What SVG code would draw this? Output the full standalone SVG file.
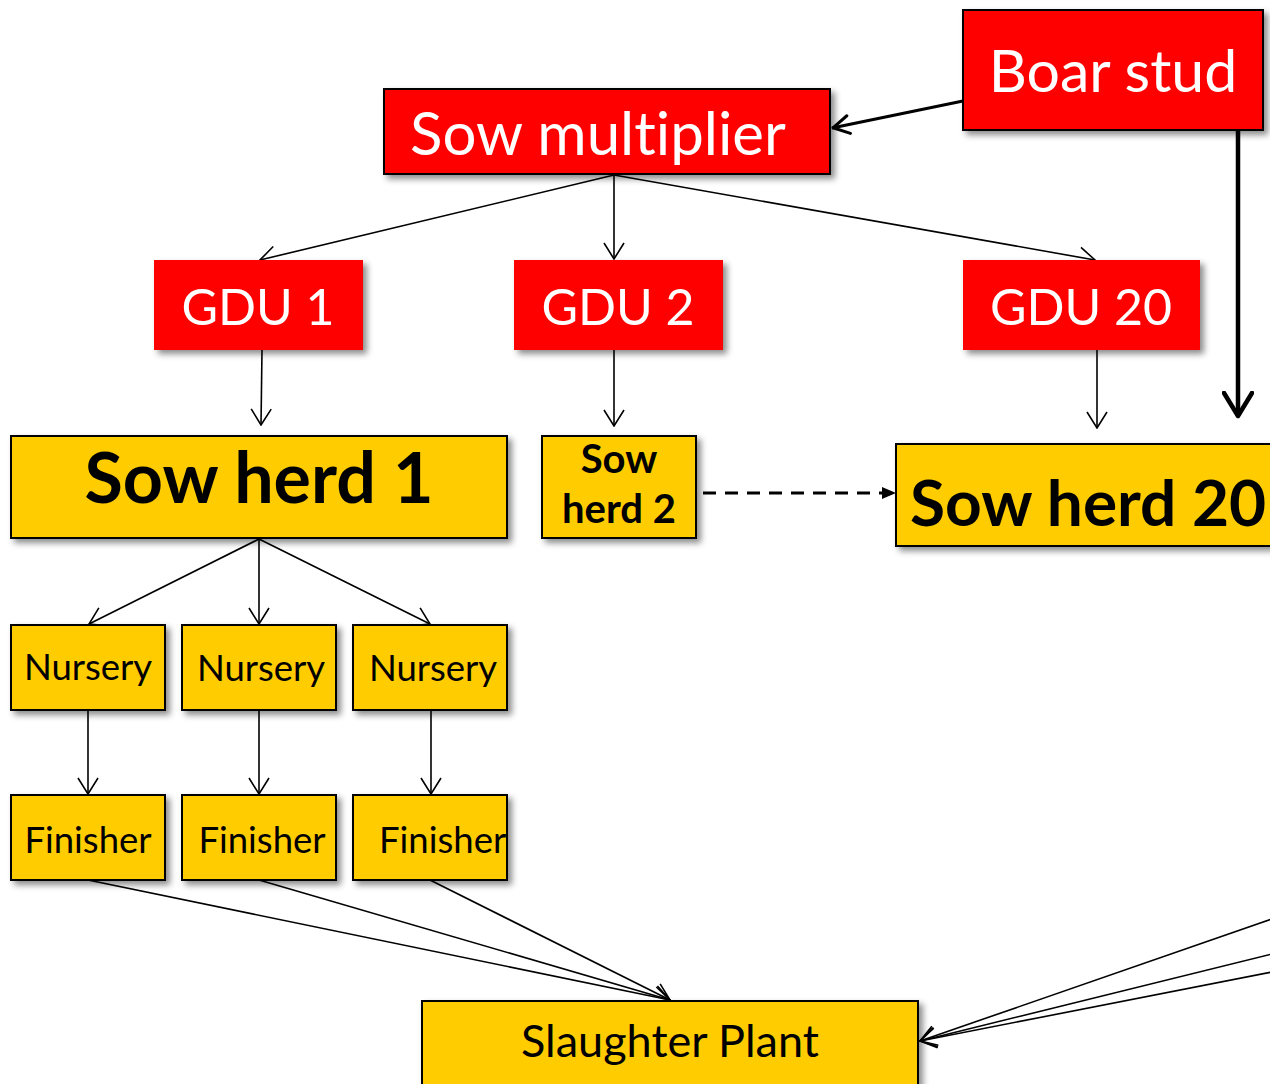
<svg xmlns="http://www.w3.org/2000/svg" width="1270" height="1084" viewBox="0 0 1270 1084">
<defs>
<filter id="sh" x="-10%" y="-20%" width="130%" height="150%">
<feDropShadow dx="4" dy="4" stdDeviation="3" flood-color="#000" flood-opacity="0.45"/>
</filter>
<marker id="open" markerUnits="userSpaceOnUse" viewBox="0 0 18 22" refX="17" refY="11" markerWidth="18" markerHeight="22" orient="auto">
<path d="M1,1 L17,11 L1,21" fill="none" stroke="#000" stroke-width="1.6"/>
</marker>
<marker id="openThick" markerUnits="userSpaceOnUse" viewBox="0 0 28 32" refX="25" refY="16" markerWidth="28" markerHeight="32" orient="auto">
<path d="M2,2 L25,16 L2,30" fill="none" stroke="#000" stroke-width="4.5" stroke-linecap="round" stroke-linejoin="round"/>
</marker>
<marker id="openMed" markerUnits="userSpaceOnUse" viewBox="0 0 20 22" refX="19" refY="11" markerWidth="20" markerHeight="22" orient="auto">
<path d="M2,2 L18,11 L2,20" fill="none" stroke="#000" stroke-width="3" stroke-linecap="round" stroke-linejoin="round"/>
</marker>
<marker id="tri" markerUnits="userSpaceOnUse" viewBox="0 0 14 14" refX="13" refY="7" markerWidth="14" markerHeight="14" orient="auto">
<path d="M0,1 L14,7 L0,13 Z" fill="#000"/>
</marker>
</defs>
<style>
.red{fill:#FF0000;}
.redb{fill:#FF0000;stroke:#000;stroke-width:2;}
.yel{fill:#FFCC00;stroke:#000;stroke-width:2;}
text{font-family:Lato,"Open Sans",sans-serif;font-variant-ligatures:none;}
.wt{fill:#fff;}
.bk{fill:#000;}
.b{font-weight:bold;}
.c{stroke:#000;stroke-width:1.6;fill:none;}
</style>

<g id="connectors">
<line class="c" x1="963" y1="101" x2="832" y2="128" style="stroke-width:3" marker-end="url(#openMed)"/>
<line class="c" x1="1238" y1="130" x2="1238" y2="416" style="stroke-width:4.5" marker-end="url(#openThick)"/>
<line class="c" x1="614" y1="175" x2="260" y2="260" marker-end="url(#open)"/>
<line class="c" x1="614" y1="175" x2="614" y2="259" marker-end="url(#open)"/>
<line class="c" x1="614" y1="175" x2="1095" y2="260" marker-end="url(#open)"/>
<line class="c" x1="262" y1="350" x2="261" y2="425" marker-end="url(#open)"/>
<line class="c" x1="614" y1="350" x2="614" y2="426" marker-end="url(#open)"/>
<line class="c" x1="1097" y1="350" x2="1097" y2="428" marker-end="url(#open)"/>
<line class="c" x1="703" y1="493" x2="895" y2="493" style="stroke-width:3.2;stroke-dasharray:13 9" marker-end="url(#tri)"/>
<line class="c" x1="259" y1="539" x2="89" y2="624" marker-end="url(#open)"/>
<line class="c" x1="259" y1="539" x2="259" y2="624" marker-end="url(#open)"/>
<line class="c" x1="259" y1="539" x2="430" y2="624" marker-end="url(#open)"/>
<line class="c" x1="88" y1="710" x2="88" y2="794" marker-end="url(#open)"/>
<line class="c" x1="259" y1="710" x2="259" y2="794" marker-end="url(#open)"/>
<line class="c" x1="431" y1="710" x2="431" y2="794" marker-end="url(#open)"/>
<line class="c" x1="88" y1="880" x2="670" y2="1000" marker-end="url(#open)"/>
<line class="c" x1="259" y1="880" x2="670" y2="1000" marker-end="url(#open)"/>
<line class="c" x1="430" y1="880" x2="670" y2="1000" marker-end="url(#open)"/>
<line class="c" x1="1272" y1="919" x2="920" y2="1041" marker-end="url(#open)"/>
<line class="c" x1="1272" y1="954" x2="920" y2="1041" marker-end="url(#open)"/>
<line class="c" x1="1272" y1="972" x2="920" y2="1041" marker-end="url(#open)"/>
</g>

<g id="boar-stud">
<rect class="redb" x="963" y="10" width="300" height="120" filter="url(#sh)"/>
<text class="wt" x="1113" y="92" font-size="59" text-anchor="middle">Boar stud</text>
</g>
<g id="sow-multiplier">
<rect class="redb" x="384" y="89" width="446" height="85" filter="url(#sh)"/>
<text class="wt" x="598" y="155" font-size="60" text-anchor="middle">Sow multiplier</text>
</g>
<g id="gdu-1">
<rect class="red" x="154" y="260" width="209" height="90" filter="url(#sh)"/>
<text class="wt" x="258" y="325" font-size="50" text-anchor="middle">GDU 1</text>
</g>
<g id="gdu-2">
<rect class="red" x="514" y="260" width="209" height="90" filter="url(#sh)"/>
<text class="wt" x="618" y="325" font-size="50" text-anchor="middle">GDU 2</text>
</g>
<g id="gdu-20">
<rect class="red" x="963" y="260" width="237" height="90" filter="url(#sh)"/>
<text class="wt" x="1081" y="325" font-size="50" text-anchor="middle">GDU 20</text>
</g>
<g id="sow-herd-1">
<rect class="yel" x="11" y="436" width="496" height="102" filter="url(#sh)"/>
<text class="bk b" x="259" y="503" font-size="70" text-anchor="middle">Sow herd 1</text>
</g>
<g id="sow-herd-2">
<rect class="yel" x="542" y="436" width="154" height="102" filter="url(#sh)"/>
<text class="bk b" x="619" y="473" font-size="40" text-anchor="middle">Sow</text>
<text class="bk b" x="619" y="523" font-size="40" text-anchor="middle">herd 2</text>
</g>
<g id="sow-herd-20">
<rect class="yel" x="896" y="444" width="390" height="102" filter="url(#sh)"/>
<text class="bk b" x="910" y="526" font-size="64">Sow herd 20</text>
</g>
<g id="nursery-1">
<rect class="yel" x="11" y="625" width="154" height="85" filter="url(#sh)"/>
<text class="bk" x="88" y="680" font-size="36.5" text-anchor="middle">Nursery</text>
</g>
<g id="nursery-2">
<rect class="yel" x="182" y="625" width="154" height="85" filter="url(#sh)"/>
<text class="bk" x="261" y="681" font-size="36.5" text-anchor="middle">Nursery</text>
</g>
<g id="nursery-3">
<rect class="yel" x="353" y="625" width="154" height="85" filter="url(#sh)"/>
<text class="bk" x="433" y="681" font-size="36.5" text-anchor="middle">Nursery</text>
</g>
<g id="finisher-1">
<rect class="yel" x="11" y="795" width="154" height="85" filter="url(#sh)"/>
<text class="bk" x="88" y="853" font-size="36.5" text-anchor="middle">Finisher</text>
</g>
<g id="finisher-2">
<rect class="yel" x="182" y="795" width="154" height="85" filter="url(#sh)"/>
<text class="bk" x="262" y="853" font-size="36.5" text-anchor="middle">Finisher</text>
</g>
<g id="finisher-3">
<rect class="yel" x="353" y="795" width="154" height="85" filter="url(#sh)"/>
<text class="bk" x="379" y="853" font-size="36.5">Finisher</text>
</g>
<g id="slaughter-plant">
<rect class="yel" x="422" y="1001" width="496" height="90" filter="url(#sh)"/>
<text class="bk" x="670" y="1057" font-size="45" text-anchor="middle">Slaughter Plant</text>
</g>
</svg>
